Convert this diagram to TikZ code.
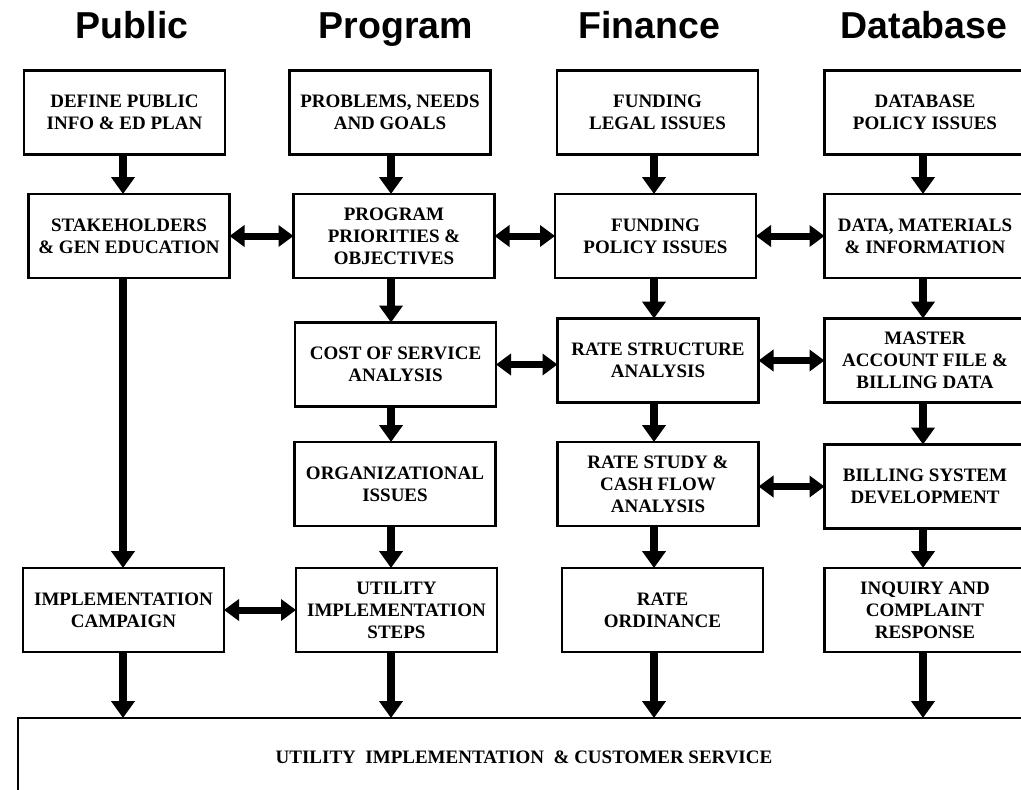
\documentclass[tikz,border=0pt]{standalone}
\usepackage{fontspec}
\setmainfont{Liberation Serif}
\newfontfamily\hdrfont{Liberation Sans}
\usetikzlibrary{arrows.meta}
\begin{document}
\begin{tikzpicture}[x=1pt,y=-1pt,
  box/.style={draw, line width=2.6pt, align=center, inner sep=0pt, outer sep=0pt,
    minimum width=201pt, minimum height=84pt,
    font=\bfseries\fontsize{19}{22}\selectfont},
  hdr/.style={font=\hdrfont\bfseries\fontsize{37.5}{40}\selectfont, anchor=base},
  arr/.style={line width=8pt, -{Triangle[width=23pt,length=17pt]}},
  darr/.style={line width=7pt, {Triangle[width=21pt,length=15pt]}-{Triangle[width=21pt,length=15pt]}}
]
\useasboundingbox (0,0) rectangle (1021,790);
\clip (0,0) rectangle (1021,790);
\fill[white] (0,0) rectangle (1021,790);

% column lines
\coordinate (cP) at (123,0);
\coordinate (cG) at (391,0);
\coordinate (cF) at (654,0);
\coordinate (cD) at (923,0);

% headers
\node[hdr] (hPublic) at (132,38) {Public};
\node[hdr] (hProgram) at (396,38) {Program};
\node[hdr] (hFinance) at (649,38) {Finance};
\node[hdr] (hDatabase) at (924,38) {Database};

% Public
\node[box] (define) at (124.5,112.5) {DEFINE PUBLIC\\INFO \& ED PLAN};
\node[box] (stake) at (129,236) {STAKEHOLDERS\\\& GEN EDUCATION};
\node[box] (impl) at (123.5,610) {IMPLEMENTATION\\CAMPAIGN};

% Program
\node[box] (problems) at (390,112.5) {PROBLEMS, NEEDS\\AND GOALS};
\node[box] (priorities) at (394,236) {PROGRAM\\PRIORITIES \&\\OBJECTIVES};
\node[box] (cost) at (395.5,364.5) {COST OF SERVICE\\ANALYSIS};
\node[box] (org) at (395,484) {ORGANIZATIONAL\\ISSUES};
\node[box] (steps) at (396.5,610) {UTILITY\\IMPLEMENTATION\\STEPS};

% Finance
\node[box] (legal) at (657.5,112.5) {FUNDING\\LEGAL ISSUES};
\node[box] (fpolicy) at (655.5,236) {FUNDING\\POLICY ISSUES};
\node[box] (ratestruct) at (658,360.5) {RATE STRUCTURE\\ANALYSIS};
\node[box] (ratestudy) at (658,484) {RATE STUDY \&\\CASH FLOW\\ANALYSIS};
\node[box] (ordinance) at (662.5,610) {RATE\\ORDINANCE};

% Database
\node[box] (dbpolicy) at (925,112.5) {DATABASE\\POLICY ISSUES};
\node[box] (data) at (925,236) {DATA, MATERIALS\\\& INFORMATION};
\node[box] (master) at (925,360.5) {MASTER\\ACCOUNT FILE \&\\BILLING DATA};
\node[box] (billing) at (925,486.5) {BILLING SYSTEM\\DEVELOPMENT};
\node[box] (inquiry) at (925,610) {INQUIRY AND\\COMPLAINT\\RESPONSE};

% bottom
\node[box, minimum width=1012pt, minimum height=78pt] (bottom) at (524,757)
  {UTILITY\ \ IMPLEMENTATION\ \ \& CUSTOMER SERVICE};

% vertical arrows
\draw[arr] (define.south -| cP) -- (stake.north -| cP);
\draw[arr] (stake.south -| cP) -- (impl.north -| cP);
\draw[arr] (impl.south -| cP) -- (bottom.north -| cP);

\draw[arr] (problems.south -| cG) -- (priorities.north -| cG);
\draw[arr] (priorities.south -| cG) -- (cost.north -| cG);
\draw[arr] (cost.south -| cG) -- (org.north -| cG);
\draw[arr] (org.south -| cG) -- (steps.north -| cG);
\draw[arr] (steps.south -| cG) -- (bottom.north -| cG);

\draw[arr] (legal.south -| cF) -- (fpolicy.north -| cF);
\draw[arr] (fpolicy.south -| cF) -- (ratestruct.north -| cF);
\draw[arr] (ratestruct.south -| cF) -- (ratestudy.north -| cF);
\draw[arr] (ratestudy.south -| cF) -- (ordinance.north -| cF);
\draw[arr] (ordinance.south -| cF) -- (bottom.north -| cF);

\draw[arr] (dbpolicy.south -| cD) -- (data.north -| cD);
\draw[arr] (data.south -| cD) -- (master.north -| cD);
\draw[arr] (master.south -| cD) -- (billing.north -| cD);
\draw[arr] (billing.south -| cD) -- (inquiry.north -| cD);
\draw[arr] (inquiry.south -| cD) -- (bottom.north -| cD);

% horizontal double arrows
\draw[darr] (stake.east) -- (priorities.west);
\draw[darr] (priorities.east) -- (fpolicy.west);
\draw[darr] (fpolicy.east) -- (data.west);
\draw[darr] (cost.east) -- (cost.east -| ratestruct.west);
\draw[darr] (ratestruct.east) -- (master.west);
\draw[darr] (ratestudy.east |- billing.west) -- (billing.west);
\draw[darr] (impl.east) -- (steps.west);
\end{tikzpicture}
\end{document}
